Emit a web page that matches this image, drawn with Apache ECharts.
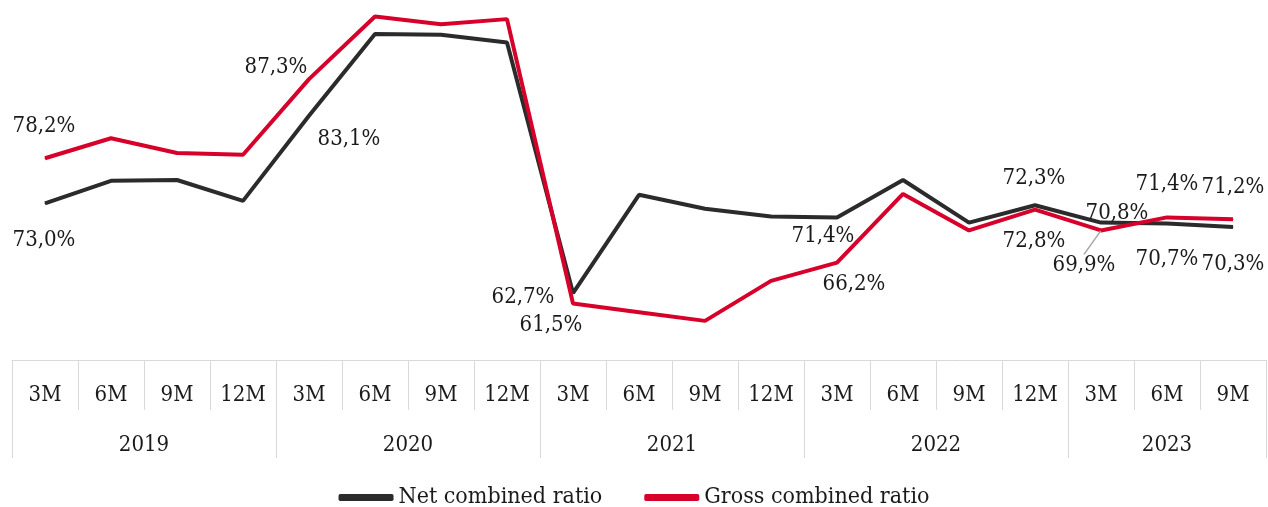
<!DOCTYPE html>
<html>
<head>
<meta charset="utf-8">
<script src="https://cdn.jsdelivr.net/npm/echarts@6/dist/echarts.min.js"></script>
<style>
html,body{margin:0;padding:0;background:#fff;}
#chart{width:1268px;height:507px;}
</style>
</head>
<body>
<div id="chart"></div>
<script>
const months = ['3M','6M','9M','12M','3M','6M','9M','12M','3M','6M','9M','12M','3M','6M','9M','12M','3M','6M','9M'];
const years = ['2019','2020','2021','2022','2023'];
const yearCounts = [4,4,4,4,3];
const netValues = [73.0,75.6,75.7,73.3,83.1,92.5,92.4,91.5,62.7,74.0,72.4,71.5,71.4,75.7,70.8,72.8,70.8,70.7,70.3];
const grossValues = [78.2,80.5,78.8,78.6,87.3,94.5,93.6,94.2,61.5,60.5,59.5,64.1,66.2,74.1,69.9,72.3,69.9,71.4,71.2];
const seriesNames = ['Net combined ratio','Gross combined ratio'];

// label placement (shifts from point) - styling only
const netLabelOffsets = {0:[-1,37],4:[40,24],8:[-50,4],12:[-14,19],15:[-1,36],16:[16,-9],17:[0,36],18:[0,37]};
const grossLabelOffsets = {0:[-1,-32],4:[-33,-12],8:[-22,22],12:[17,22],15:[-1,-31],16:[-17,35],17:[0,-33],18:[0,-32]};
const grossLeaderIndex = 16;

const FONT = '"DejaVu Serif Condensed","DejaVu Serif",serif';
const TXT = '#1a1a1a';
const GRIDC = '#d9d9d9';
const NETC = '#2b2b2b';
const GROSSC = '#d7002a';

function fmt(v){ return v.toFixed(1).replace('.',',') + '%'; }

function buildData(values, offsets, leaderIdx){
  return values.map((v,i)=>{
    if (offsets[i]) {
      const item = {value:v, label:{show:true, position:'inside'}};
      if (i === leaderIdx) item.labelLine = {show:true};
      return item;
    }
    return {value:v};
  });
}
function layoutFor(offsets){
  return function(params){
    const o = offsets[params.dataIndex];
    if (o) return {dx:o[0], dy:o[1]};
    return {};
  };
}

// year boundaries & centers from counts
const yearBounds = [0];
yearCounts.forEach(c=>yearBounds.push(yearBounds[yearBounds.length-1]+c));
const yearMids = years.map((y,i)=>(yearBounds[i]+yearBounds[i+1])/2);

const chart = echarts.init(document.getElementById('chart'), null, {renderer:'canvas'});
const option = {
  animation:false,
  grid:{left:12,right:2,top:0,bottom:147,containLabel:false},
  legend:{
    data:seriesNames, top:481, left:'center', icon:'roundRect',
    itemWidth:55, itemHeight:7, itemGap:42,
    textStyle:{fontFamily:FONT,fontSize:23,color:TXT}
  },
  xAxis:[
    {
      type:'category', data:months, boundaryGap:true, position:'bottom',
      axisLine:{show:true,lineStyle:{color:GRIDC,width:1}},
      axisTick:{show:true,interval:0,length:50,lineStyle:{color:GRIDC,width:1}},
      axisLabel:{interval:0,margin:24,fontFamily:FONT,fontSize:22,lineHeight:22,color:TXT},
      splitLine:{show:false}
    },
    {
      type:'value', min:0, max:yearBounds[yearBounds.length-1], position:'bottom',
      axisLine:{show:false},
      axisTick:{show:true,customValues:yearBounds,length:98,lineStyle:{color:GRIDC,width:1}},
      axisLabel:{show:true,customValues:yearMids,margin:74,fontFamily:FONT,fontSize:22,lineHeight:22,color:TXT,
        formatter:function(v){ const k=yearMids.indexOf(v); return k>=0?years[k]:''; }},
      splitLine:{show:false}
    }
  ],
  yAxis:{type:'value',min:55,max:96.4,show:false,splitLine:{show:false}},
  series:[
    {
      name:seriesNames[0], type:'line', xAxisIndex:0,
      data:buildData(netValues, netLabelOffsets, -1),
      symbol:'circle', symbolSize:1, showSymbol:true,
      itemStyle:{color:NETC}, lineStyle:{color:NETC,width:4},
      label:{show:false,formatter:p=>fmt(p.value),fontFamily:FONT,fontSize:22,color:TXT},
      labelLayout:layoutFor(netLabelOffsets),
      z:2
    },
    {
      name:seriesNames[1], type:'line', xAxisIndex:0,
      data:buildData(grossValues, grossLabelOffsets, grossLeaderIndex),
      symbol:'circle', symbolSize:1, showSymbol:true,
      itemStyle:{color:GROSSC}, lineStyle:{color:GROSSC,width:4},
      label:{show:false,formatter:p=>fmt(p.value),fontFamily:FONT,fontSize:22,color:TXT},
      labelLine:{show:false,lineStyle:{color:'#a6a6a6',width:1.5}},
      labelLayout:layoutFor(grossLabelOffsets),
      z:3
    }
  ]
};
chart.setOption(option);
</script>
</body>
</html>
